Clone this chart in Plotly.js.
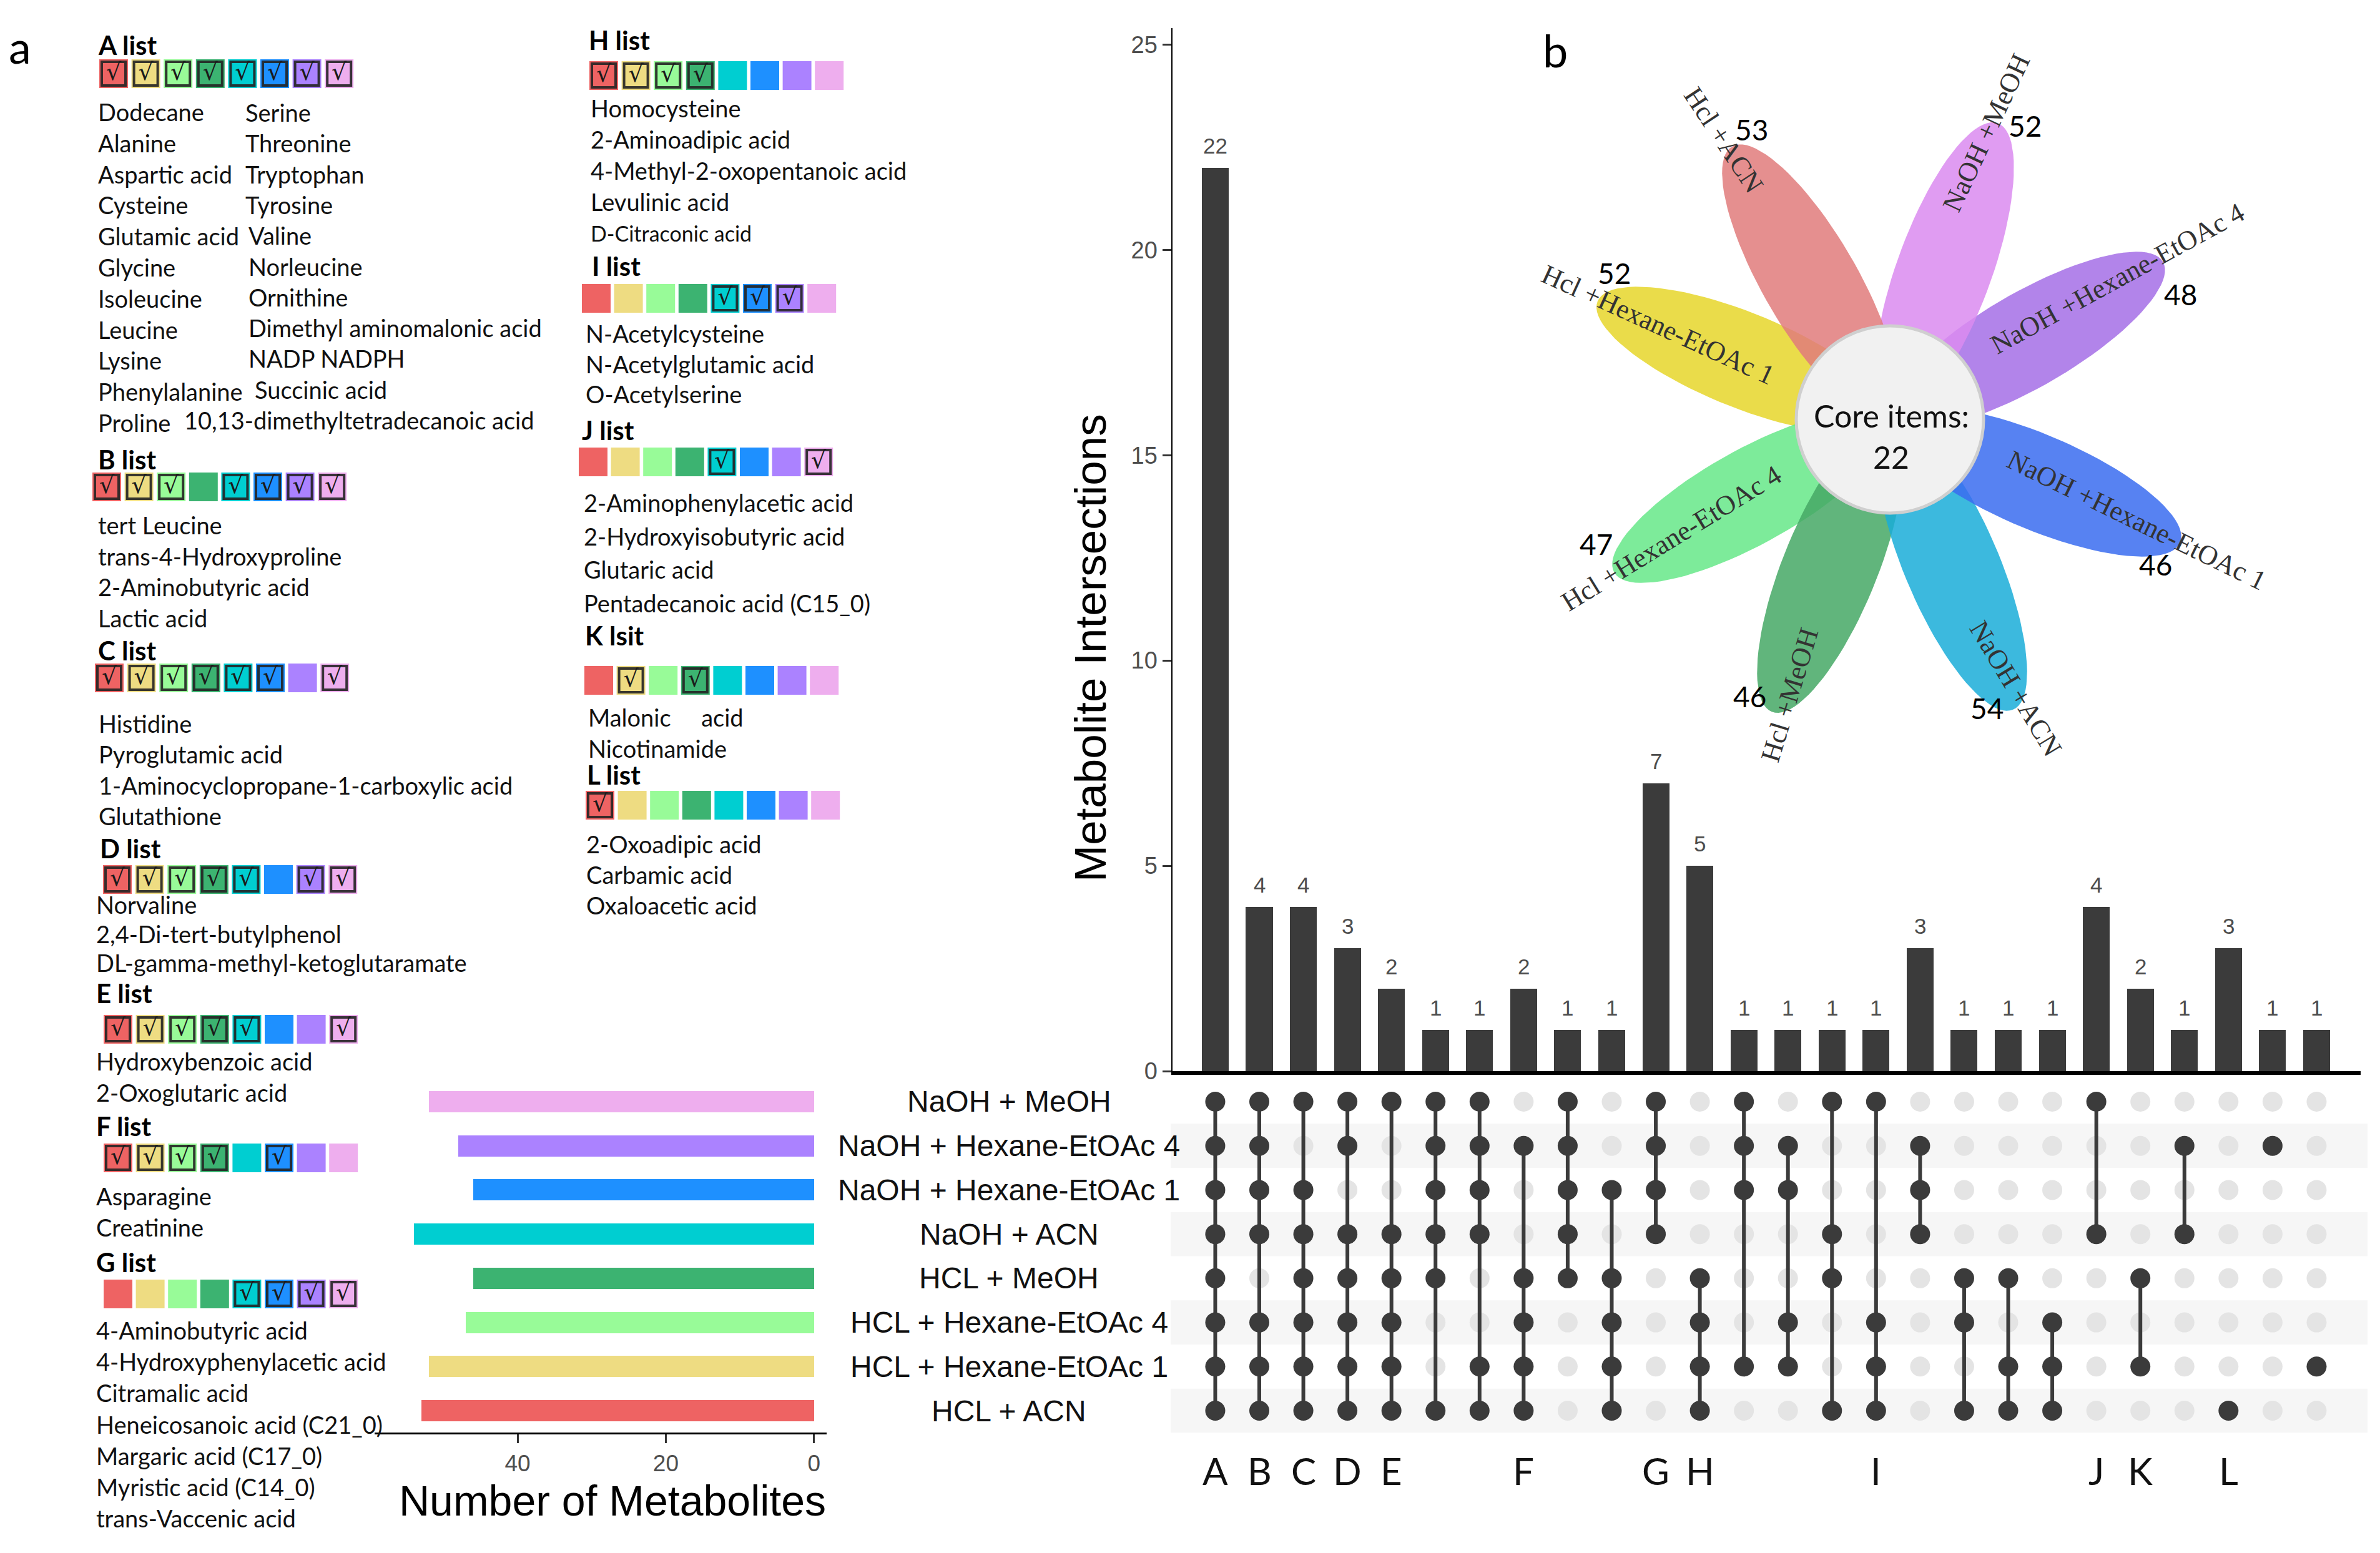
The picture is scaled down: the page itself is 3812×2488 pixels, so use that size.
<!DOCTYPE html>
<html><head><meta charset="utf-8">
<script src="https://cdn.plot.ly/plotly-3.0.1.min.js"></script>
<style>html,body{margin:0;padding:0;background:#fff}</style>
</head><body><div id="chart" style="width:3812px;height:2488px"></div>
<script>
// ---------------- DATA ----------------
const setNames = ['NaOH + MeOH','NaOH + Hexane-EtOAc 4','NaOH + Hexane-EtOAc 1','NaOH + ACN','HCL + MeOH','HCL + Hexane-EtOAc 4','HCL + Hexane-EtOAc 1','HCL + ACN'];
const setSizes = [52,48,46,54,46,47,52,53];
const setColors = ['#EEAEEE','#AB82FF','#1E90FF','#00CED1','#3CB371','#98FB98','#EEDC82','#EE6363'];

const intersectionCounts = [22,4,4,3,2,1,1,2,1,1,7,5,1,1,1,1,3,1,1,1,4,2,1,3,1,1];
// members: row numbers (1 = NaOH + MeOH ... 8 = HCL + ACN)
const intersectionMembers = [
  [1,2,3,4,5,6,7,8],[1,2,3,4,6,7,8],[1,3,4,5,6,7,8],[1,2,4,5,6,7,8],[1,4,5,6,7,8],
  [1,2,3,4,5,8],[1,2,3,4,7,8],[2,5,6,7,8],[1,2,3,4,5],[3,5,6,7,8],
  [1,2,3,4],[5,6,7,8],[1,2,3,7],[2,3,6,7],[1,4,5,8],
  [1,6,7,8],[2,3,4],[5,6,8],[5,7,8],[6,7,8],
  [1,4],[5,7],[2,4],[8],[2],[7]
];
const columnLetters = ['A','B','C','D','E','F','G','H','I','J','K','L'];
const columnLetterCols = [1,2,3,4,5,8,11,12,16,21,22,24];

const swatchSets = ['HCL + ACN','HCL + Hexane-EtOAc 1','HCL + Hexane-EtOAc 4','HCL + MeOH','NaOH + ACN','NaOH + Hexane-EtOAc 1','NaOH + Hexane-EtOAc 4','NaOH + MeOH'];
const listTitles = ['A list','B list','C list','D list','E list','F list','G list','H list','I list','J list','K lsit','L list'];
const listChecks = [
  [1,1,1,1,1,1,1,1],[1,1,1,0,1,1,1,1],[1,1,1,1,1,1,0,1],[1,1,1,1,1,0,1,1],
  [1,1,1,1,1,0,0,1],[1,1,1,1,0,1,0,0],[0,0,0,0,1,1,1,1],[1,1,1,1,0,0,0,0],
  [0,0,0,0,1,1,1,0],[0,0,0,0,1,0,0,1],[0,1,0,1,0,0,0,0],[1,0,0,0,0,0,0,0]
];
const listItems = [
  ['Dodecane','Alanine','Aspartic acid','Cysteine','Glutamic acid','Glycine','Isoleucine','Leucine','Lysine','Phenylalanine','Proline'],
  ['tert Leucine','trans-4-Hydroxyproline','2-Aminobutyric acid','Lactic acid'],
  ['Histidine','Pyroglutamic acid','1-Aminocyclopropane-1-carboxylic acid','Glutathione'],
  ['Norvaline','2,4-Di-tert-butylphenol','DL-gamma-methyl-ketoglutaramate'],
  ['Hydroxybenzoic acid','2-Oxoglutaric acid'],
  ['Asparagine','Creatinine'],
  ['4-Aminobutyric acid','4-Hydroxyphenylacetic acid','Citramalic acid','Heneicosanoic acid (C21_0)','Margaric acid (C17_0)','Myristic acid (C14_0)','trans-Vaccenic acid'],
  ['Homocysteine','2-Aminoadipic acid','4-Methyl-2-oxopentanoic acid','Levulinic acid','D-Citraconic acid'],
  ['N-Acetylcysteine','N-Acetylglutamic acid','O-Acetylserine'],
  ['2-Aminophenylacetic acid','2-Hydroxyisobutyric acid','Glutaric acid','Pentadecanoic acid (C15_0)'],
  ['Malonic\u00a0\u00a0\u00a0\u00a0 acid','Nicotinamide'],
  ['2-Oxoadipic acid','Carbamic acid','Oxaloacetic acid']
];
const listA2Items = ['Serine','Threonine','Tryptophan','Tyrosine','Valine','Norleucine','Ornithine','Dimethyl aminomalonic acid','NADP NADPH','Succinic acid','10,13-dimethyltetradecanoic acid'];

const flowerSets = ['HCL + ACN','NaOH + MeOH','NaOH + Hexane-EtOAc 4','NaOH + Hexane-EtOAc 1','NaOH + ACN','HCL + MeOH','HCL + Hexane-EtOAc 4','HCL + Hexane-EtOAc 1'];
const flowerLabels = ['Hcl +ACN','NaOH +MeOH','NaOH +Hexane-EtOAc 4','NaOH +Hexane-EtOAc 1','NaOH +ACN','Hcl +MeOH','Hcl +Hexane-EtOAc 4','Hcl +Hexane-EtOAc 1'];
const coreCount = 22;

// ---------------- LAYOUT CONSTANTS (pixels) ----------------
const W = 3812, H = 2488;
const rowTop = 1729.6, rowBot = 2295.4;
const colorOf = n => setColors[setNames.indexOf(n)];
const sizeOf = n => setSizes[setNames.indexOf(n)];

const listBlocks = [ // header x,y ; swatch x0,y ; item x, y0, dy
  {hx:155,hy:72, sx:159,sy:118, ix:155,iy:179,dy:49.8},
  {hx:155,hy:736, sx:148,sy:780, ix:155,iy:841,dy:49.7},
  {hx:155,hy:1042,sx:152,sy:1086,ix:156,iy:1159,dy:49.3},
  {hx:158,hy:1359,sx:165,sy:1409,ix:152,iy:1449,dy:46.5},
  {hx:152,hy:1591,sx:166,sy:1649,ix:152,iy:1700,dy:50},
  {hx:152,hy:1804,sx:166,sy:1855,ix:152,iy:1916,dy:50},
  {hx:152,hy:2022,sx:166,sy:2073,ix:152,iy:2131,dy:50.2},
  {hx:941,hy:64, sx:944,sy:121, ix:944,iy:173,dy:50},
  {hx:946,hy:426, sx:932,sy:478, ix:936,iy:534,dy:48.5},
  {hx:930,hy:689, sx:927,sy:740, ix:933,iy:805,dy:53.7},
  {hx:935,hy:1018,sx:936,sy:1090,ix:940,iy:1149,dy:50},
  {hx:938,hy:1241,sx:938,sy:1290,ix:937,iy:1352,dy:49}
];
const a2X = [391,391,391,391,396,396,396,396,396,406,293];
const swPitch = 51.6, swSize = 46;

const fc = {x:3027, y:672, r:150};
const petalAngles = [330,20,60,113,157,202,241,292];
const petalColors = ['#E07B7B','#DA8BF0','#A56EE6','#3A6CF0','#1AADD8','#45A865','#66E888','#E6D62A'];
const labelPos = [[2761,224,56.5],[3181,213,-65],[3391,446,-28.7],[3422,833,26],[3229,1103,59],[2866,1113,-73],[2677,862,-31.6],[2656,520,24.5]];
const numPos = [[2805,207],[3243,201],[3492,471],[3452,904],[3182,1134],[2802,1115],[2556,871],[2585,437]];

const listFont = 'Lato, "Open Sans", sans-serif';
const arial = '"Liberation Sans", Arial, sans-serif';
const serif = '"Liberation Serif", "Times New Roman", serif';

// ---------------- TRACES ----------------
const traces = [];
const annotations = [];
const shapes = [];
const cols = intersectionCounts.map((_, i) => i + 1);

// intersection bars
traces.push({type:'bar', x:cols, y:intersectionCounts, xaxis:'x', yaxis:'y',
  marker:{color:'#3b3b3b'}, width:0.61, hoverinfo:'skip'});
intersectionCounts.forEach((c, i) => annotations.push({x:i+1, y:c, xref:'x', yref:'y', text:String(c),
  showarrow:false, yanchor:'bottom', yshift:14, font:{family:arial, size:35, color:'#4d4d4d'}}));

// matrix
for (let r = 2; r <= 8; r += 2) shapes.push({type:'rect', xref:'paper', yref:'y2', x0:1875/W, x1:3792/W, y0:r-0.5, y1:r+0.5,
  fillcolor:'#f6f6f6', line:{width:0}, layer:'below'});
const lx=[], ly=[], dX=[], dY=[], gX=[], gY=[];
intersectionMembers.forEach((m, i) => {
  const c = i + 1;
  for (let r = 1; r <= 8; r++) { if (m.includes(r)) { dX.push(c); dY.push(r); } else { gX.push(c); gY.push(r); } }
  if (m.length > 1) { lx.push(c, c, null); ly.push(Math.min(...m), Math.max(...m), null); }
});
traces.push({type:'scatter', mode:'markers', x:gX, y:gY, xaxis:'x2', yaxis:'y2', marker:{size:32, color:'#e4e4e4'}, hoverinfo:'skip'});
traces.push({type:'scatter', mode:'lines', x:lx, y:ly, xaxis:'x2', yaxis:'y2', line:{width:6, color:'#3b3b3b'}, hoverinfo:'skip'});
traces.push({type:'scatter', mode:'markers', x:dX, y:dY, xaxis:'x2', yaxis:'y2', marker:{size:32, color:'#3b3b3b'}, hoverinfo:'skip'});

setNames.forEach((n, i) => annotations.push({x:1616, y:i+1, xref:'x4', yref:'y2', text:n, showarrow:false,
  xanchor:'center', font:{family:arial, size:48, color:'#111'}}));
columnLetters.forEach((l, i) => annotations.push({x:columnLetterCols[i], y:2356, xref:'x', yref:'y4', text:l, showarrow:false,
  font:{family:listFont, size:60, color:'#111'}}));

// set sizes bars
traces.push({type:'bar', orientation:'h', x:setSizes, y:setNames.map((_, i) => i + 1), xaxis:'x3', yaxis:'y3',
  marker:{color:setColors}, width:0.48, hoverinfo:'skip'});
annotations.push({x:981, y:2404, xref:'x4', yref:'y4', text:'Number of Metabolites', showarrow:false,
  font:{family:arial, size:68, color:'#000'}});
annotations.push({x:1746, y:1038, xref:'x4', yref:'y4', text:'Metabolite Intersections', showarrow:false, textangle:-90,
  font:{family:arial, size:71, color:'#000'}});

// flower
function ellipse(cx, cy, angDeg, dist, a, b) {
  const th = angDeg * Math.PI / 180, dx = Math.sin(th), dy = -Math.cos(th), px = Math.cos(th), py = Math.sin(th);
  const ex = cx + dist * dx, ey = cy + dist * dy, xs = [], ys = [];
  for (let k = 0; k <= 90; k++) { const t = k / 90 * 2 * Math.PI;
    xs.push(ex + a * Math.cos(t) * dx + b * Math.sin(t) * px); ys.push(ey + a * Math.cos(t) * dy + b * Math.sin(t) * py); }
  return {xs, ys};
}
const drawOrder = [7,6,5,4,3,2,1,0];
drawOrder.forEach(i => {
  const e = ellipse(fc.x, fc.y, petalAngles[i], 255, 250, 76);
  traces.push({type:'scatter', mode:'lines', x:e.xs, y:e.ys, xaxis:'x4', yaxis:'y4', fill:'toself',
    fillcolor:petalColors[i], line:{width:0, color:petalColors[i]}, opacity:0.85, hoverinfo:'skip'});
});
shapes.push({type:'circle', xref:'x4', yref:'y4', x0:fc.x-fc.r, x1:fc.x+fc.r, y0:fc.y-fc.r, y1:fc.y+fc.r,
  fillcolor:'#f1f1f1', line:{color:'#cfcfcf', width:5}, layer:'above'});
annotations.push({x:fc.x+2, y:666, xref:'x4', yref:'y4', text:'Core items:', showarrow:false, font:{family:listFont, size:50, color:'#111'}});
annotations.push({x:fc.x+2, y:732, xref:'x4', yref:'y4', text:String(coreCount), showarrow:false, font:{family:listFont, size:50, color:'#111'}});
flowerSets.forEach((n, i) => {
  annotations.push({x:labelPos[i][0], y:labelPos[i][1], xref:'x4', yref:'y4', text:flowerLabels[i], textangle:labelPos[i][2],
    showarrow:false, font:{family:serif, size:44, color:'#333'}});
  annotations.push({x:numPos[i][0], y:numPos[i][1], xref:'x4', yref:'y4', text:String(sizeOf(n)), showarrow:false,
    font:{family:listFont, size:46, color:'#000'}});
});

// panel letters
annotations.push({x:32, y:74, xref:'x4', yref:'y4', text:'a', showarrow:false, font:{family:listFont, size:72, color:'#000'}});
annotations.push({x:2491, y:80, xref:'x4', yref:'y4', text:'b', showarrow:false, font:{family:listFont, size:72, color:'#000'}});

// lists
const swX=[], swY=[], swC=[], ckX=[], ckY=[];
listTitles.forEach((t, li) => {
  const b = listBlocks[li];
  annotations.push({x:b.hx, y:b.hy, xref:'x4', yref:'y4', text:'<b>' + t + '</b>', showarrow:false, xanchor:'left',
    font:{family:listFont, size:42, color:'#000'}});
  swatchSets.forEach((s, j) => {
    const x = b.sx + swSize / 2 + j * swPitch;
    swX.push(x); swY.push(b.sy); swC.push(colorOf(s));
    if (listChecks[li][j]) { ckX.push(x); ckY.push(b.sy); }
  });
  listItems[li].forEach((it, k) => {
    annotations.push({x:b.ix, y:b.iy + k * b.dy, xref:'x4', yref:'y4', text:it, showarrow:false, xanchor:'left',
      font:{family:listFont, size:(it === 'D-Citraconic acid' ? 34 : 38), color:'#111'}});
  });
});
listA2Items.forEach((it, k) => annotations.push({x:a2X[k], y:180 + k * 49.3, xref:'x4', yref:'y4', text:it, showarrow:false,
  xanchor:'left', font:{family:listFont, size:38, color:'#111'}}));

traces.push({type:'scatter', mode:'markers', x:swX, y:swY, xaxis:'x4', yaxis:'y4',
  marker:{symbol:'square', size:swSize, color:swC, line:{width:0}}, hoverinfo:'skip'});
traces.push({type:'scatter', mode:'markers+text', x:ckX, y:ckY, xaxis:'x4', yaxis:'y4', text:ckX.map(() => '√'),
  textposition:'middle center', textfont:{family:'"DejaVu Sans", sans-serif', size:38, color:'#1a1a1a'},
  marker:{symbol:'square-open', size:38, color:'rgba(35,35,35,0.9)', line:{width:4, color:'rgba(35,35,35,0.9)'}}, hoverinfo:'skip'});

// ---------------- LAYOUT ----------------
const yDom = [1 - rowBot / H, 1 - rowTop / H];
const layout = {
  width:W, height:H, margin:{l:0, r:0, t:0, b:0}, paper_bgcolor:'#fff', plot_bgcolor:'rgba(0,0,0,0)',
  showlegend:false, bargap:0,
  xaxis:{domain:[1878/W, 3781/W], range:[0.03, 27.0], anchor:'y', showline:true, linewidth:6, linecolor:'#000',
    ticks:'', showticklabels:false, showgrid:false, zeroline:false, fixedrange:true},
  yaxis:{domain:[1 - 1716/H, 1 - 45/H], range:[0, 25.4], anchor:'x', showline:true, linewidth:2.5, linecolor:'#000',
    ticks:'outside', ticklen:14, tickwidth:3, tickcolor:'#333', tickvals:[0,5,10,15,20,25],
    tickfont:{family:arial, size:38, color:'#4d4d4d'}, showgrid:false, zeroline:false, fixedrange:true},
  xaxis2:{domain:[1878/W, 3781/W], range:[0.03, 27.0], anchor:'y2', visible:false, fixedrange:true},
  yaxis2:{domain:yDom, range:[8.5, 0.5], anchor:'x2', visible:false, fixedrange:true},
  xaxis3:{domain:[600/W, 1324/W], range:[59.3, -1.7], anchor:'y3', showline:true, linewidth:3, linecolor:'#000',
    ticks:'outside', ticklen:14, tickwidth:3, tickcolor:'#333', tickvals:[0,20,40],
    tickfont:{family:arial, size:37, color:'#4d4d4d'}, showgrid:false, zeroline:false, fixedrange:true},
  yaxis3:{domain:yDom, range:[8.5, 0.5], anchor:'x3', visible:false, fixedrange:true},
  xaxis4:{domain:[0,1], range:[0, W], anchor:'y4', visible:false, fixedrange:true},
  yaxis4:{domain:[0,1], range:[H, 0], anchor:'x4', visible:false, fixedrange:true},
  shapes, annotations
};
Plotly.newPlot('chart', traces, layout, {staticPlot:true, displayModeBar:false});
</script></body></html>
